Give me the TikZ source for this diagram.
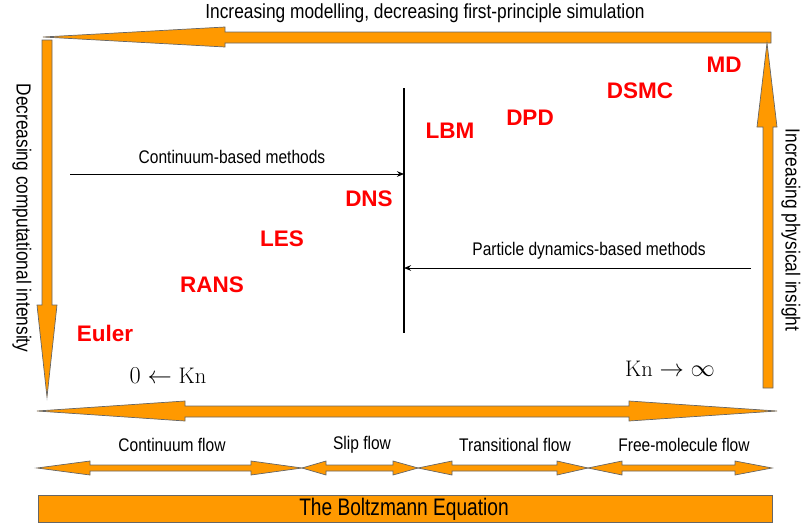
\documentclass[tikz,border=0pt]{standalone}
\usepackage{fontspec}
\newfontfamily\condfont{Liberation Sans}[FakeStretch=0.85]
\newfontfamily\narrowfont{Liberation Sans}[FakeStretch=0.8]
\newfontfamily\boldsans{Liberation Sans}
\usetikzlibrary{arrows.meta}
\definecolor{orng}{RGB}{255,153,0}
\definecolor{rred}{RGB}{255,0,0}

\tikzset{
  fat/.style={fill=orng,draw=black!60,line width=0.5pt},
  meth/.style={text=rred,font=\boldsans\bfseries\fontsize{16}{16}\selectfont},
  lbl/.style={font=\condfont\fontsize{13}{13}\selectfont},
  big/.style={font=\condfont\fontsize{14.5}{14.5}\selectfont},
  thin/.style={line width=0.7pt,-{Stealth[length=5pt,width=4pt]}}
}

\begin{document}
\begin{tikzpicture}[x=0.025cm,y=-0.025cm]
  \useasboundingbox (0,0) rectangle (803,526);
  % orange frame arrows
  \draw[fat] (771,32) -- (225,32) -- (225,27) -- (43,37) -- (225,47) -- (225,43) -- (771,43) -- cycle;
  \draw[fat] (42,40) -- (42,305) -- (37,305) -- (47,397) -- (57,305) -- (52,305) -- (52,40) -- cycle;
  \draw[fat] (763,388) -- (763,127) -- (757,127) -- (767,43) -- (777,127) -- (773,127) -- (773,388) -- cycle;
  % Knudsen axis
  \draw[fat] (37,411) -- (185,401) -- (185,406) -- (629,406) -- (629,401) -- (777,411)
    -- (629,421) -- (629,417) -- (185,417) -- (185,421) -- cycle;
  % flow regimes
  \foreach \a/\b/\c/\d in {37/90/251/302, 302/326/393/418, 418/452/557/588, 588/622/735/772}
    \draw[fat] (\a,468) -- (\b,461) -- (\b,465) -- (\c,465) -- (\c,461) -- (\d,468)
      -- (\c,475) -- (\c,471) -- (\b,471) -- (\b,475) -- cycle;
  \draw[fat] (38,495) rectangle (772,522);

  \node[big] (toptxt) at (425,13) {Increasing modelling, decreasing first-principle simulation};
  \node[big,rotate=-90] (lefttxt) at (22,218) {Decreasing computational intensity};
  \node[big,rotate=-90] (righttxt) at (791,230) {Increasing physical insight};
  \node[font=\narrowfont\fontsize{17}{17}\selectfont] (boltz) at (404,509) {The Boltzmann Equation};

  \node[lbl] (cont) at (172,445) {Continuum flow};
  \node[lbl] (slip) at (362,445) {Slip flow};
  \node[lbl] (trans) at (515,445) {Transitional flow};
  \node[lbl] (free) at (684,445) {Free-molecule flow};

  \node[font=\fontsize{16}{16}\selectfont] (knlow) at (168,376) {$0\leftarrow\mathrm{Kn}$};
  \node[font=\fontsize{16}{16}\selectfont] (knhigh) at (670,369) {$\mathrm{Kn}\rightarrow\infty$};

  % divider and method arrows
  \coordinate (vtop) at (404,88);
  \coordinate (vbot) at (404,333);
  \draw[line width=1.4pt] (vtop) -- (vbot);
  \coordinate (cstart) at (70,174);
  \coordinate (pstart) at (751,268);
  \draw[thin] (cstart) -- (vtop |- cstart);
  \draw[thin] (pstart) -- (vtop |- pstart);
  \node[lbl] (contm) at (232,157) {Continuum-based methods};
  \node[lbl] (partm) at (589,251) {Particle dynamics-based methods};

  \node[meth] (euler) at (105,333) {Euler};
  \node[meth] (rans) at (212,285) {RANS};
  \node[meth] (les) at (282,239) {LES};
  \node[meth] (dns) at (369,199) {DNS};
  \node[meth] (lbm) at (450,131) {LBM};
  \node[meth] (dpd) at (530,118) {DPD};
  \node[meth] (dsmc) at (640,91) {DSMC};
  \node[meth] (md) at (724,65) {MD};
\end{tikzpicture}
\end{document}
